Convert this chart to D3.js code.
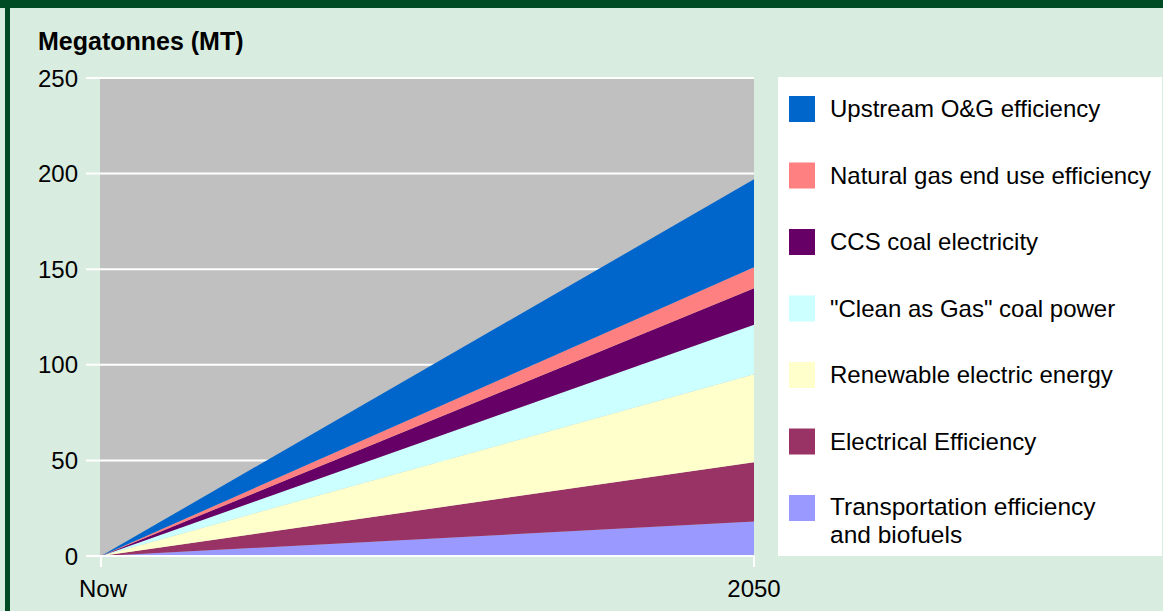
<!DOCTYPE html>
<html><head><meta charset="utf-8">
<script src="https://cdn.jsdelivr.net/npm/d3@7"></script>
<style>html,body{margin:0;padding:0;background:#d9ece0;overflow:hidden}</style>
</head><body>
<svg id="c" width="1163" height="611"></svg>
<script>
const categories = ["Now", "2050"];
const seriesNames = [
  "Transportation efficiency and biofuels",
  "Electrical Efficiency",
  "Renewable electric energy",
  "\"Clean as Gas\" coal power",
  "CCS coal electricity",
  "Natural gas end use efficiency",
  "Upstream O&G efficiency"
];
const transportation = [0, 18];
const electrical = [0, 31];
const renewable = [0, 46];
const cleanGas = [0, 26];
const ccs = [0, 19];
const naturalGas = [0, 11];
const upstream = [0, 46];
const seriesValues = [transportation, electrical, renewable, cleanGas, ccs, naturalGas, upstream];
const colors = ["#9999ff", "#993366", "#ffffcc", "#ccffff", "#660066", "#ff8080", "#0066cc"];
const yTicks = [0, 50, 100, 150, 200, 250];
const yLabel = "Megatonnes (MT)";
const legendOrder = [6, 5, 4, 3, 2, 1, 0];
const FONT = "Liberation Sans, Arial, Helvetica, sans-serif";

const svg = d3.select("#c");
svg.append("rect").attr("x",0).attr("y",0).attr("width",1163).attr("height",611).attr("fill","#d9ece0");
svg.append("rect").attr("x",0).attr("y",0).attr("width",1163).attr("height",8).attr("fill","#004b24");
svg.append("rect").attr("x",5).attr("y",0).attr("width",5).attr("height",611).attr("fill","#004b24");

const x = d3.scalePoint().domain(categories).range([101, 754]);
const y = d3.scaleLinear().domain([0, 250]).range([556, 78]);

// plot background
svg.append("rect").attr("x", 100).attr("y", y(250) + 1).attr("width", 754 - 100).attr("height", y(0) - y(250) - 1).attr("fill", "#c0c0c0");

// gridlines
svg.append("g").selectAll("line").data(yTicks).join("line")
  .attr("x1", 86).attr("x2", 754)
  .attr("y1", d => y(d)).attr("y2", d => y(d))
  .attr("stroke", "#fff").attr("stroke-width", 2);

// y labels
svg.append("g").selectAll("text").data(yTicks).join("text")
  .attr("x", 78).attr("y", d => y(d) + 8.5)
  .attr("text-anchor", "end")
  .attr("font-family", FONT).attr("font-size", 24)
  .attr("fill", "#000").text(d => d);

svg.append("text").attr("x", 38).attr("y", 50)
  .attr("font-family", FONT).attr("font-size", 25).attr("font-weight", "bold")
  .attr("fill", "#000").text(yLabel);

// stacked areas
const rows = categories.map((c, i) => {
  const o = {cat: c};
  seriesNames.forEach((s, j) => o[s] = seriesValues[j][i]);
  return o;
});
const stack = d3.stack().keys(seriesNames)(rows);
const area = d3.area().x(d => x(d.data.cat)).y0(d => y(d[0])).y1(d => y(d[1]));
svg.append("g").selectAll("path").data(stack).join("path")
  .attr("d", area).attr("fill", (d, i) => colors[i]);

// x axis ticks
svg.append("line").attr("x1", 86).attr("x2", 754).attr("y1", 556).attr("y2", 556).attr("stroke", "#fff").attr("stroke-width", 2);
svg.append("g").selectAll("line").data(categories).join("line")
  .attr("x1", d => x(d)).attr("x2", d => x(d)).attr("y1", 556).attr("y2", 567)
  .attr("stroke", "#fff").attr("stroke-width", 2);
svg.append("g").selectAll("text").data(categories).join("text")
  .attr("x", d => x(d) + (d === "Now" ? 2 : 0)).attr("y", 597)
  .attr("text-anchor", "middle")
  .attr("font-family", FONT).attr("font-size", 24)
  .attr("fill", "#000").text(d => d);

// legend
svg.append("rect").attr("x", 778).attr("y", 77).attr("width", 1162 - 778).attr("height", 556 - 77).attr("fill", "#fff");
const lg = svg.append("g").selectAll("g").data(legendOrder).join("g")
  .attr("transform", (d, k) => `translate(789,${96 + k * 66.5})`);
lg.append("rect").attr("width", 26).attr("height", 26).attr("fill", d => colors[d]);
lg.each(function(d) {
  const g = d3.select(this);
  if (d === 0) {
    const t = g.append("text").attr("font-family", FONT).attr("font-size", 24.5).attr("fill", "#000");
    t.append("tspan").attr("x", 41).attr("y", 20).text("Transportation efficiency");
    t.append("tspan").attr("x", 41).attr("y", 48).text("and biofuels");
  } else {
    g.append("text").attr("x", 41).attr("y", 21)
      .attr("font-family", FONT).attr("font-size", 24)
      .attr("fill", "#000").text(seriesNames[d]);
  }
});
</script>
</body></html>
